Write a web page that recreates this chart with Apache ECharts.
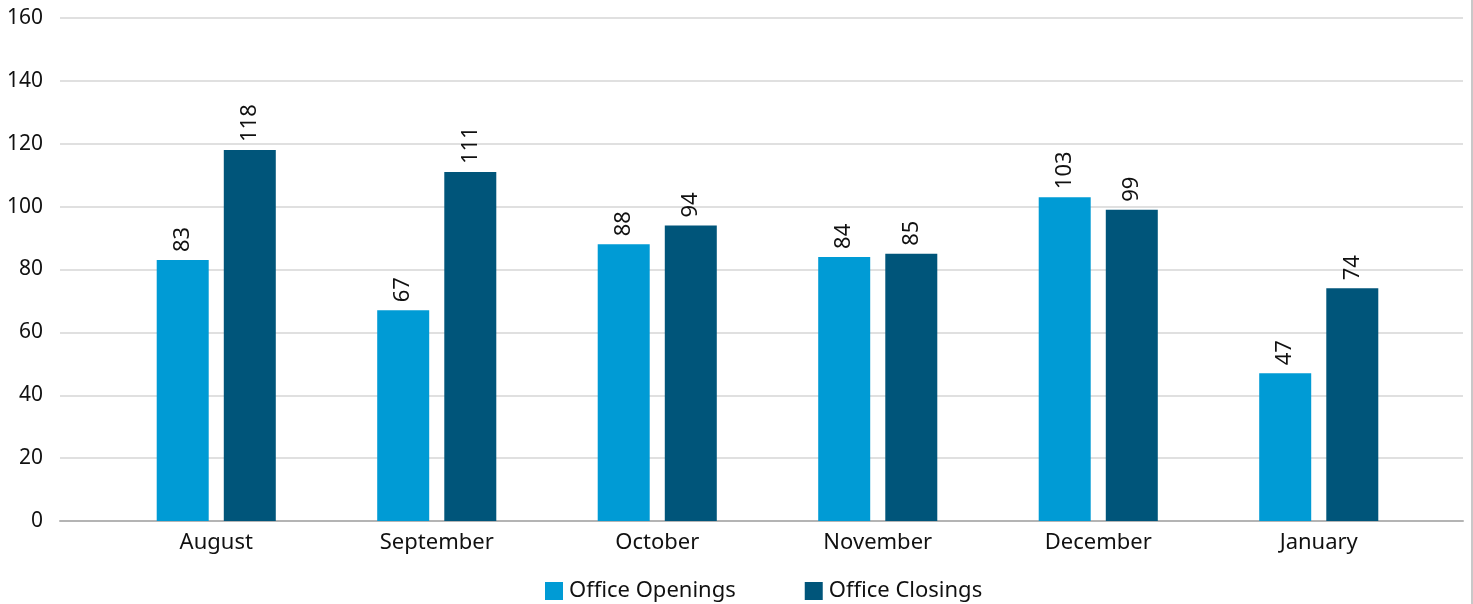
<!DOCTYPE html>
<html><head><meta charset="utf-8">
<script src="https://cdn.jsdelivr.net/npm/echarts@6/dist/echarts.min.js"></script>
<style>html,body{margin:0;padding:0;background:#fff;}#c{width:1471px;height:604px;border-right:2px solid #c8c8c8;}</style>
</head><body><div id="c"></div>
<script>
const categories = ['August','September','October','November','December','January'];
const openings = [83, 67, 88, 84, 103, 47];
const closings = [118, 111, 94, 85, 99, 74];
const yTicks = {min: 0, max: 160, interval: 20};
const seriesNames = ['Office Openings', 'Office Closings'];
const colors = ['#009BD5', '#00557A'];

const FONT = 'Noto Sans';
const chart = echarts.init(document.getElementById('c'));
const labelCfg = {show: true, position: 'top', rotate: 90, align: 'left', verticalAlign: 'middle', distance: 8, color: '#111', fontSize: 22, fontFamily: FONT};
chart.setOption({
  animation: false,
  color: colors,
  grid: [
    {left: 60, right: 8, top: 18, bottom: 83},
    {left: 106, right: 42, top: 18, bottom: 83}
  ],
  xAxis: [
    {gridIndex: 0, type: 'category', data: [''], axisLine: {show: true, lineStyle: {color: '#b4b4b4', width: 2}}, axisTick: {show: false}, axisLabel: {show: false}},
    {gridIndex: 1, type: 'category', data: categories, axisLine: {show: false}, axisTick: {show: false},
     axisLabel: {color: '#111', fontSize: 22, fontFamily: FONT, margin: 11}}
  ],
  yAxis: [
    {gridIndex: 0, type: 'value', min: yTicks.min, max: yTicks.max, interval: yTicks.interval,
     axisLine: {show: false}, axisTick: {show: false},
     axisLabel: {color: '#111', fontSize: 21, fontFamily: FONT, margin: 17},
     splitLine: {lineStyle: {color: '#e0e0e0', width: 2}}},
    {gridIndex: 1, type: 'value', min: yTicks.min, max: yTicks.max, interval: yTicks.interval, show: false, splitLine: {show: false}}
  ],
  legend: {
    top: 575, left: 540, itemWidth: 18, itemHeight: 18, itemGap: 69, icon: 'rect',
    textStyle: {color: '#111', fontSize: 22, fontFamily: FONT, padding: [0,0,0,1]},
    data: seriesNames
  },
  series: [
    {name: seriesNames[0], type: 'bar', xAxisIndex: 1, yAxisIndex: 1, data: openings, barWidth: 52, barGap: '29%', label: labelCfg},
    {name: seriesNames[1], type: 'bar', xAxisIndex: 1, yAxisIndex: 1, data: closings, barWidth: 52, barGap: '29%', label: labelCfg}
  ]
});
</script></body></html>
